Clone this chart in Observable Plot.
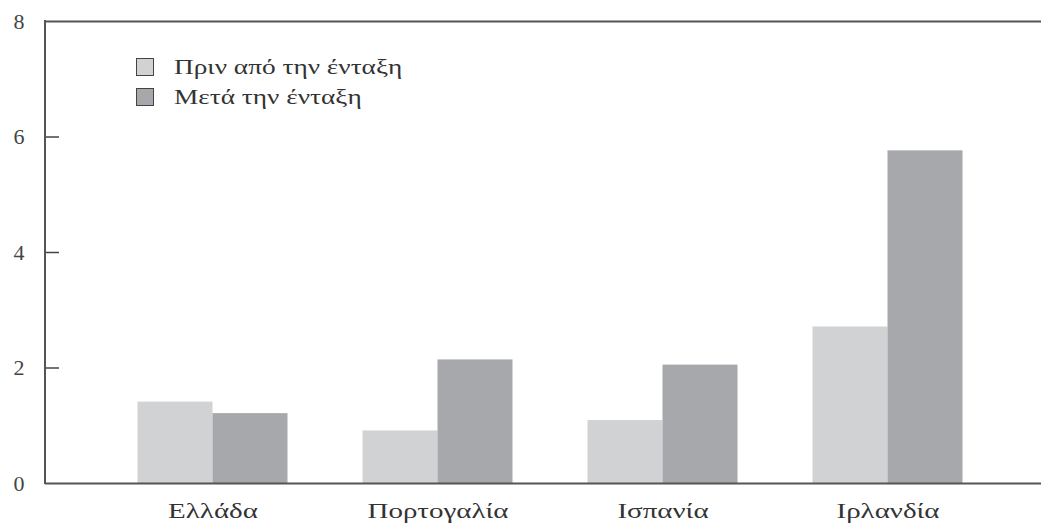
<!DOCTYPE html>
<html><head><meta charset="utf-8">
<script src="https://cdn.jsdelivr.net/npm/d3@7"></script>
<script src="https://cdn.jsdelivr.net/npm/@observablehq/plot@0.6"></script>
<style>
body{margin:0;background:#fff}
#wrap{position:relative;width:1041px;height:525px;font-family:"Liberation Serif",serif}
#legend{position:absolute;left:136px;top:52px;font-size:21px;color:#333;line-height:30px}
#legend .row{display:flex;align-items:center}
#legend .sw{width:16px;height:16px;border:1.5px solid #444;margin-right:20px;box-sizing:content-box}
#legend .tx{display:inline-block;transform:scaleX(1.3);transform-origin:left center;white-space:nowrap}
</style>
</head><body><div id="wrap"></div>
<script>
const countries = ["Ελλάδα", "Πορτογαλία", "Ισπανία", "Ιρλανδία"];
const series = ["Πριν από την ένταξη", "Μετά την ένταξη"];
const before = [1.41, 0.91, 1.09, 2.71];
const after = [1.21, 2.14, 2.05, 5.76];
const yTicks = [0, 2, 4, 6, 8];
const colors = ["#d1d2d4", "#a7a8ab"];

const rowsBefore = countries.map((c, i) => ({country: c, series: series[0], value: before[i]}));
const rowsAfter = countries.map((c, i) => ({country: c, series: series[1], value: after[i]}));

const width = 1041;
const bandwidth = 150;
const stretch = 1.38;
const marginLeft = 45;
const tickLen = 14;
const chart = Plot.plot({
  width,
  height: 525,
  marginTop: 21,
  marginBottom: 42,
  marginLeft,
  marginRight: 0,
  style: {fontFamily: "Liberation Serif, serif", background: "#fff", color: "#333"},
  x: {domain: countries, range: [100, 1000], paddingInner: 1/3, paddingOuter: 1/6, round: false, label: null},
  y: {domain: [0, 8], label: null},
  color: {domain: series, range: colors},
  marks: [
    Plot.barY(rowsBefore, {x: "country", y: "value", fill: "series", insetRight: bandwidth / 2}),
    Plot.barY(rowsAfter, {x: "country", y: "value", fill: "series", insetLeft: bandwidth / 2}),
    Plot.ruleY(yTicks.filter(d => d > 0 && d < 8), {stroke: "#444", strokeWidth: 1.5, insetRight: width - marginLeft - tickLen}),
    Plot.axisX({tickSize: 0, tickPadding: 20, fontSize: 21, fill: "#333", label: null}),
    Plot.ruleY([0, 8], {stroke: "#555", strokeWidth: 2}),
    Plot.axisY({ticks: yTicks, tickSize: 0, tickPadding: 21, fontSize: 22, fill: "#444", label: null})
  ]
});
// left axis line, placed with the chart's own y scale
const ys = chart.scale("y");
d3.select(chart).append("line")
  .attr("x1", marginLeft).attr("x2", marginLeft)
  .attr("y1", ys.apply(yTicks[yTicks.length - 1]) - 1).attr("y2", ys.apply(yTicks[0]) + 1)
  .attr("stroke", "#555").attr("stroke-width", 2);
// widen the Greek category labels, as in the reference typeface
chart.querySelectorAll('[aria-label="x-axis tick label"] text').forEach(t => {
  const tr = t.getAttribute("transform");
  if (tr) t.setAttribute("transform", tr + ` scale(${stretch},1)`);
  else {
    const x = +t.getAttribute("x") || 0;
    t.setAttribute("transform", `translate(${x},0) scale(${stretch},1) translate(${-x},0)`);
  }
});
const wrap = document.getElementById("wrap");
wrap.appendChild(chart);
const legend = document.createElement("div");
legend.id = "legend";
series.forEach((s, i) => {
  const row = document.createElement("div");
  row.className = "row";
  const sw = document.createElement("span");
  sw.className = "sw";
  sw.style.background = colors[i];
  const t = document.createElement("span");
  t.className = "tx";
  t.textContent = s;
  row.appendChild(sw); row.appendChild(t);
  legend.appendChild(row);
});
wrap.appendChild(legend);
</script>
</body></html>
